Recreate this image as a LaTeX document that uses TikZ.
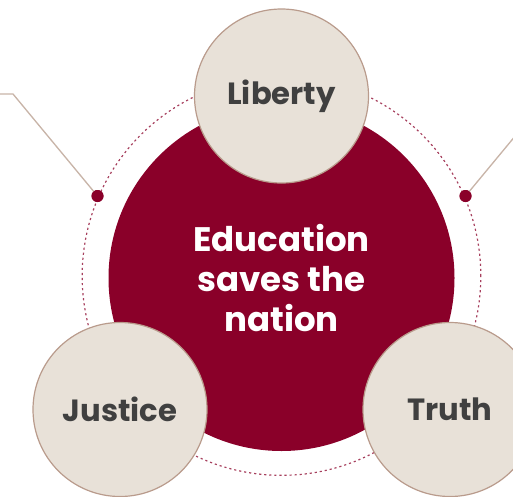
\documentclass[tikz,border=0pt]{standalone}
\usepackage{fontspec}
\setmainfont{Poppins}
\usetikzlibrary{calc}

\definecolor{wine}{RGB}{138,0,41}
\definecolor{sand}{RGB}{232,225,216}
\definecolor{sandedge}{RGB}{185,155,140}
\definecolor{leader}{RGB}{200,180,168}
\definecolor{ink}{RGB}{64,64,64}

\begin{document}
\begin{tikzpicture}[x=0.75pt,y=-0.75pt,
		value/.style={circle, fill=sand, draw=sandedge, line width=0.9pt, minimum size=130.5pt, inner sep=0pt, text=ink, font=\bfseries\fontsize{23}{27}\selectfont},
		pin/.style={circle, fill=wine, minimum size=9pt, inner sep=0pt},
		leaderline/.style={draw=leader, line width=1pt}]
		\useasboundingbox (0,0) rectangle (513,496);
		
		% dotted ring behind everything
		\node[circle, draw=wine!75, line width=0.9pt, dash pattern=on 1.6pt off 2.2pt, minimum size=299pt, inner sep=0pt] (ring) at (281.5,276) {};
		
		% leader lines with pins
		\node[pin] (ldot) at (97.5,196) {};
		\node[pin] (rdot) at (465.5,196) {};
		\coordinate (lend) at (0,94);
		\coordinate (lcorner) at (13,94);
		\coordinate (rcorner) at (550,94);
		\coordinate (rend) at (600,94);
		\draw[leaderline] (lend) -- (lcorner) -- (ldot.center)
		(rdot.center) -- (rcorner) -- (rend);
		\node[pin] at (ldot) {};
		\node[pin] at (rdot) {};
		
		% main circle
		\node[circle, fill=wine, minimum size=259.5pt, inner sep=0pt, text=white, align=center, font=\bfseries\fontsize{25.5}{30}\selectfont] (edu) at (281.5,278) {Education\\saves the\\nation};
		
		\node[value] (lib) at (281.5,96) {Liberty};
		\node[value] (jus) at (120,409.5) {Justice};
		\node[value] (tru) at (450,409.5) {Truth};
		
\end{tikzpicture}
\end{document}
